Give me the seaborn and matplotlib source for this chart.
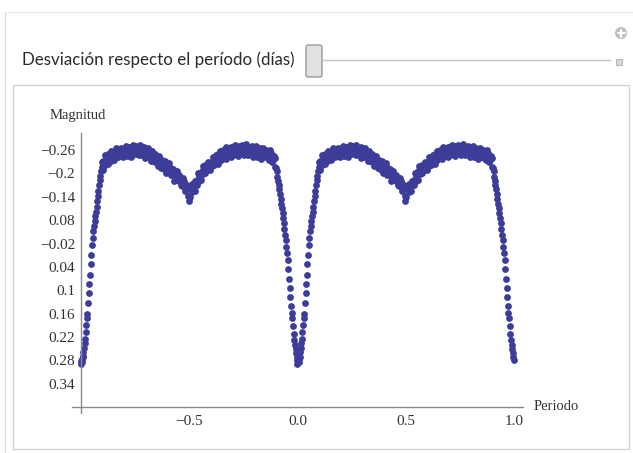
import numpy as np
import pandas as pd
import matplotlib
matplotlib.use("Agg")
import matplotlib.pyplot as plt
import seaborn as sns
from matplotlib.patches import Rectangle, FancyBboxPatch, Ellipse
from matplotlib.lines import Line2D

# one cycle of the light curve (phase 0..1), plotted twice: phase-1 and phase
fase_egreso = [0.000, 0.003, 0.005, 0.007, 0.009, 0.011, 0.013, 0.016, 0.018, 0.020,
               0.023, 0.026, 0.029, 0.031, 0.034, 0.037, 0.040, 0.043, 0.046, 0.049,
               0.052, 0.055, 0.058, 0.061, 0.064, 0.067, 0.070, 0.073, 0.076, 0.079,
               0.082, 0.085, 0.088, 0.091, 0.094, 0.097, 0.099]
mag_egreso = [0.290, 0.282, 0.276, 0.284, 0.268, 0.272, 0.258, 0.248, 0.236, 0.224,
              0.208, 0.190, 0.172, 0.160, 0.132, 0.108, 0.085, 0.060, 0.032, 0.010,
              -0.015, -0.035, -0.052, -0.064, -0.078, -0.090, -0.100, -0.115, -0.128, -0.142,
              -0.156, -0.170, -0.182, -0.194, -0.205, -0.216, -0.228]

fase_banda = [0.102, 0.105, 0.108, 0.112, 0.115, 0.118, 0.122, 0.125, 0.128, 0.132, 0.135, 0.138,
              0.142, 0.145, 0.148, 0.152, 0.155, 0.158, 0.162, 0.165, 0.168, 0.172, 0.175, 0.178,
              0.182, 0.185, 0.188, 0.192, 0.195, 0.198, 0.202, 0.205, 0.208, 0.212, 0.215, 0.218,
              0.222, 0.225, 0.228, 0.232, 0.235, 0.238, 0.242, 0.245, 0.248, 0.252, 0.255, 0.258,
              0.262, 0.265, 0.268, 0.272, 0.275, 0.278, 0.282, 0.285, 0.288, 0.292, 0.295, 0.298,
              0.302, 0.305, 0.308, 0.312, 0.315, 0.318, 0.322, 0.325, 0.328, 0.332, 0.335, 0.338,
              0.342, 0.345, 0.348, 0.352, 0.355, 0.358, 0.362, 0.365, 0.368, 0.372, 0.375, 0.378,
              0.382, 0.385, 0.388, 0.392, 0.395, 0.398, 0.402, 0.405, 0.408, 0.412, 0.415, 0.418,
              0.422, 0.425, 0.428, 0.432, 0.435, 0.438, 0.442, 0.445, 0.448, 0.452, 0.455, 0.458,
              0.462, 0.465, 0.468, 0.472, 0.475, 0.478, 0.482, 0.485, 0.488, 0.492, 0.495, 0.498,
              0.502, 0.505, 0.498, 0.512, 0.515, 0.518, 0.522, 0.525, 0.528, 0.532, 0.535, 0.538,
              0.542, 0.545, 0.548, 0.552, 0.555, 0.558, 0.562, 0.565, 0.568, 0.572, 0.575, 0.578,
              0.582, 0.585, 0.588, 0.592, 0.595, 0.598, 0.602, 0.605, 0.608, 0.612, 0.615, 0.618,
              0.622, 0.625, 0.628, 0.632, 0.635, 0.638, 0.642, 0.645, 0.648, 0.652, 0.655, 0.658,
              0.662, 0.665, 0.668, 0.672, 0.675, 0.678, 0.682, 0.685, 0.688, 0.692, 0.695, 0.698,
              0.702, 0.705, 0.708, 0.712, 0.715, 0.718, 0.722, 0.725, 0.728, 0.732, 0.735, 0.738,
              0.742, 0.745, 0.748, 0.752, 0.755, 0.758, 0.762, 0.765, 0.768, 0.772, 0.775, 0.778,
              0.782, 0.785, 0.788, 0.792, 0.795, 0.798, 0.802, 0.805, 0.808, 0.812, 0.815, 0.818,
              0.822, 0.825, 0.828, 0.832, 0.835, 0.838, 0.842, 0.845, 0.848, 0.852, 0.855, 0.858,
              0.862, 0.865, 0.868, 0.872, 0.875, 0.878, 0.882, 0.885, 0.888, 0.892, 0.895, 0.898]
mag_banda = [-0.210, -0.231, -0.219, -0.246, -0.225, -0.232, -0.244, -0.223, -0.249, -0.238, -0.244, -0.232,
             -0.258, -0.237, -0.250, -0.247, -0.235, -0.256, -0.266, -0.244, -0.253, -0.241, -0.262, -0.250,
             -0.245, -0.261, -0.266, -0.250, -0.241, -0.259, -0.257, -0.248, -0.271, -0.254, -0.245, -0.263,
             -0.251, -0.268, -0.258, -0.242, -0.267, -0.254, -0.272, -0.249, -0.261, -0.253, -0.270, -0.258,
             -0.250, -0.264, -0.246, -0.272, -0.256, -0.265, -0.246, -0.260, -0.252, -0.267, -0.240, -0.263,
             -0.241, -0.262, -0.250, -0.264, -0.243, -0.250, -0.252, -0.231, -0.257, -0.238, -0.244, -0.232,
             -0.251, -0.230, -0.243, -0.232, -0.220, -0.241, -0.244, -0.222, -0.231, -0.213, -0.234, -0.222,
             -0.211, -0.227, -0.232, -0.211, -0.202, -0.220, -0.213, -0.204, -0.227, -0.204, -0.195, -0.213,
             -0.195, -0.212, -0.202, -0.181, -0.206, -0.193, -0.205, -0.182, -0.194, -0.180, -0.197, -0.185,
             -0.171, -0.185, -0.167, -0.187, -0.171, -0.180, -0.154, -0.168, -0.160, -0.169, -0.142, -0.165,
             -0.140, -0.161, -0.130, -0.174, -0.153, -0.160, -0.176, -0.155, -0.181, -0.176, -0.182, -0.170,
             -0.202, -0.181, -0.194, -0.196, -0.184, -0.205, -0.220, -0.198, -0.207, -0.200, -0.221, -0.209,
             -0.208, -0.224, -0.229, -0.218, -0.209, -0.227, -0.229, -0.220, -0.243, -0.230, -0.221, -0.239,
             -0.230, -0.247, -0.237, -0.225, -0.250, -0.237, -0.258, -0.235, -0.247, -0.242, -0.259, -0.247,
             -0.242, -0.256, -0.238, -0.267, -0.251, -0.260, -0.244, -0.258, -0.250, -0.269, -0.242, -0.265,
             -0.246, -0.267, -0.255, -0.273, -0.252, -0.259, -0.266, -0.245, -0.271, -0.256, -0.262, -0.250,
             -0.273, -0.252, -0.265, -0.259, -0.247, -0.268, -0.276, -0.254, -0.263, -0.248, -0.269, -0.257,
             -0.249, -0.265, -0.270, -0.252, -0.243, -0.261, -0.257, -0.248, -0.271, -0.252, -0.243, -0.261,
             -0.247, -0.264, -0.254, -0.237, -0.262, -0.249, -0.265, -0.242, -0.254, -0.244, -0.261, -0.249,
             -0.239, -0.253, -0.235, -0.259, -0.243, -0.252, -0.229, -0.243, -0.235, -0.244, -0.217, -0.240]

fase_ingreso = [0.901, 0.904, 0.907, 0.910, 0.913, 0.916, 0.919, 0.922, 0.925, 0.928,
                0.931, 0.934, 0.937, 0.940, 0.943, 0.946, 0.949, 0.952, 0.955, 0.958,
                0.961, 0.964, 0.967, 0.970, 0.973, 0.976, 0.979, 0.982, 0.985, 0.988,
                0.991, 0.994, 0.996, 0.998]
mag_ingreso = [-0.215, -0.205, -0.192, -0.180, -0.170, -0.160, -0.146, -0.134, -0.122, -0.110,
               -0.098, -0.085, -0.072, -0.058, -0.042, -0.028, -0.012, 0.004, 0.022, 0.045,
               0.070, 0.095, 0.118, 0.140, 0.158, 0.172, 0.192, 0.212, 0.228, 0.240,
               0.252, 0.262, 0.272, 0.280]

yticks = [-0.26, -0.2, -0.14, -0.08, -0.02, 0.04, 0.1, 0.16, 0.22, 0.28, 0.34]
ytick_labels = ["\u22120.26", "\u22120.2", "\u22120.14", "0.08", "\u22120.02", "0.04",
                "0.1", "0.16", "0.22", "0.28", "0.34"]
xticks = [-0.5, 0.0, 0.5, 1.0]
xtick_labels = ["\u22120.5", "0.0", "0.5", "1.0"]

fase = np.array(fase_egreso + fase_banda + fase_ingreso)
mag = np.array(mag_egreso + mag_banda + mag_ingreso)
df = pd.DataFrame({"periodo": np.concatenate([fase - 1, fase]),
                   "magnitud": np.concatenate([mag, mag])})

sns.set_style("white")
plt.rcParams['font.family'] = ['Liberation Serif', 'DejaVu Serif']

W, H = 633, 453
fig = plt.figure(figsize=(W / 100, H / 100), dpi=100)
fig.patch.set_facecolor("white")

def fx(x):
    return x / W

def fy(y):
    return 1 - y / H

# manipulate panel decoration (kept behind the axes)
fig.add_artist(Line2D([fx(5), fx(5)], [fy(12), fy(453)], color="#dcdcdc", lw=1, zorder=-10))
fig.add_artist(Line2D([fx(5), fx(633)], [fy(12), fy(12)], color="#efefef", lw=1, zorder=-10))
fig.add_artist(Rectangle((fx(13), fy(449)), fx(629 - 13), (449 - 85) / H,
                         facecolor="white", edgecolor="#d4d4d4", lw=1, zorder=-10))
fig.text(fx(22), fy(60), "Desviación respecto el período (días)", family=["Lato", "DejaVu Sans"],
         fontsize=12.2, color="#2a2a2a", ha="left", va="center")
fig.add_artist(Line2D([fx(322), fx(610)], [fy(60), fy(60)], color="#c4c4c4", lw=1))
fig.add_artist(FancyBboxPatch((fx(306), fy(77)), fx(16), 32 / H,
                              boxstyle="round,pad=0,rounding_size=0.004",
                              facecolor="#e2e2e2", edgecolor="#9a9a9a", lw=1))
fig.add_artist(Rectangle((fx(616), fy(65)), fx(6), 6 / H, facecolor="#d8d8d8", edgecolor="#b8b8b8", lw=0.8))
fig.add_artist(Ellipse((fx(621), fy(33)), 12 / W, 12 / H, facecolor="#bdbdbd", edgecolor="none"))
fig.add_artist(Line2D([fx(617.5), fx(624.5)], [fy(33), fy(33)], color="white", lw=1.6))
fig.add_artist(Line2D([fx(621), fx(621)], [fy(29.5), fy(36.5)], color="white", lw=1.6))

ax = fig.add_axes([fx(72), fy(413), fx(523 - 72), (413 - 132.5) / H])
ax.set_zorder(5)
sns.scatterplot(data=df, x="periodo", y="magnitud", ax=ax, color="#3d3d99",
                s=24, linewidth=0, legend=False)

ax.set_xlim(-1.04, 1.04)
ax.set_ylim(0.415, -0.305)
ax.patch.set_alpha(0)
for side in ["top", "right"]:
    ax.spines[side].set_visible(False)
ax.spines["left"].set_position(("data", -1.0))
ax.spines["bottom"].set_position(("data", 0.40))
for side in ["left", "bottom"]:
    ax.spines[side].set_color("#8a8a8a")
    ax.spines[side].set_linewidth(1)

ax.set_xticks(xticks)
ax.set_xticklabels(xtick_labels)
ax.set_xticks([v / 10 for v in range(-9, 10) if v not in (-5, 0, 5)], minor=True)
ax.set_yticks(yticks)
ax.set_yticklabels(ytick_labels)
ax.tick_params(axis="both", which="major", direction="in", length=4, width=0.8,
               color="#8a8a8a", labelsize=11, labelcolor="#333333", pad=4)
ax.tick_params(axis="x", which="minor", direction="in", length=2.5, width=0.8, color="#8a8a8a")
ax.tick_params(axis="x", which="major", pad=6)
ax.set_xlabel("")
ax.set_ylabel("")

fig.text(fx(50), fy(115), "Magnitud", fontsize=10.5, color="#333333", ha="left", va="center")
fig.text(fx(534), fy(407), "Periodo", fontsize=10.5, color="#333333", ha="left", va="center")

fig.savefig("out.png", dpi=100, facecolor="white")
